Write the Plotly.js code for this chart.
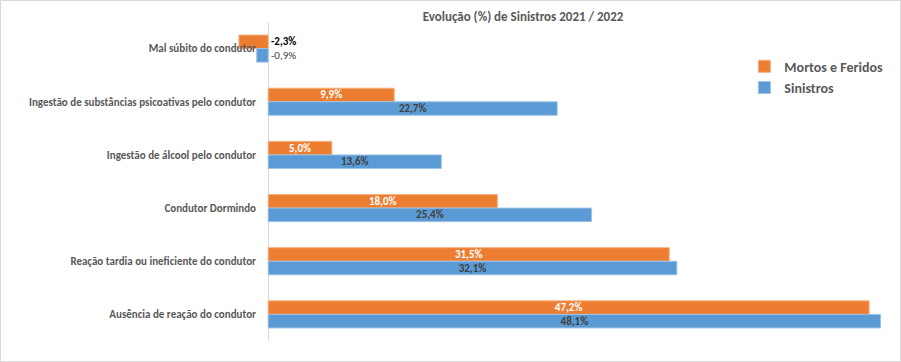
<!DOCTYPE html>
<html>
<head>
<meta charset="utf-8">
<script src="https://cdn.plot.ly/plotly-3.0.1.min.js"></script>
<style>
  html, body { margin: 0; padding: 0; background: #fff; }
  #chart { width: 899px; height: 360px; border: 1px solid #d9d9d9; }
</style>
</head>
<body>
<div id="chart"></div>
<script>
const categories = [
  "Mal súbito do condutor",
  "Ingestão de substâncias psicoativas pelo condutor",
  "Ingestão de álcool pelo condutor",
  "Condutor Dormindo",
  "Reação tardia ou ineficiente do condutor",
  "Ausência de reação do condutor"
];
const mortosFeridos = [-2.3, 9.9, 5.0, 18.0, 31.5, 47.2];
const sinistros = [-0.9, 22.7, 13.6, 25.4, 32.1, 48.1];
const seriesNames = ["Mortos e Feridos", "Sinistros"];
const titleText = "Evolução (%) de Sinistros 2021 / 2022";

const FONT = "Carlito, Calibri, Lato, 'Open Sans', sans-serif";
const fmt = v => v.toFixed(1).replace('.', ',') + '%';

function mkTrace(name, vals, color, lineColor, textColor) {
  return {
    type: 'bar', orientation: 'h', name: name,
    y: categories, x: vals,
    marker: { color: color, line: { color: lineColor, width: 1 } },
    text: vals.map(v => v > 0 ? fmt(v) : ''),
    textposition: 'inside', insidetextanchor: 'middle', textangle: 0,
    constraintext: 'none',
    textfont: { family: FONT, size: 11, color: textColor, weight: 'bold' },
    hoverinfo: 'x+y'
  };
}

const traces = [
  mkTrace(seriesNames[0], mortosFeridos, '#ED7D31', '#F4B183', '#FFFFFF'),
  mkTrace(seriesNames[1], sinistros, '#5B9BD5', '#9DC3E6', '#404040')
];

const annotations = [];
mortosFeridos.forEach((v, i) => {
  if (v <= 0) annotations.push({
    x: 0, y: categories[i], xref: 'x', yref: 'y', xanchor: 'left', yanchor: 'middle',
    yshift: 7, xshift: 1, showarrow: false, text: fmt(v),
    font: { family: FONT, size: 11, color: '#000000', weight: 'bold' }
  });
});
sinistros.forEach((v, i) => {
  if (v <= 0) annotations.push({
    x: 0, y: categories[i], xref: 'x', yref: 'y', xanchor: 'left', yanchor: 'middle',
    yshift: -7, xshift: 1, showarrow: false, text: fmt(v),
    font: { family: FONT, size: 11, color: '#404040' }
  });
});

const layout = {
  width: 899, height: 360,
  margin: { l: 229, r: 8, t: 21, b: 20, pad: 0 },
  paper_bgcolor: '#ffffff', plot_bgcolor: '#ffffff',
  font: { family: FONT, color: '#595959' },
  title: {
    text: titleText, x: 0.5807, xref: 'container', xanchor: 'center',
    y: 0.956, yref: 'container', yanchor: 'middle',
    font: { family: FONT, size: 13, color: '#595959', weight: 'bold' }
  },
  barmode: 'group', bargap: 0.49, bargroupgap: 0,
  xaxis: {
    range: [-3, 49], showticklabels: false, showgrid: false,
    zeroline: true, zerolinecolor: '#d9d9d9', zerolinewidth: 1,
    showline: false, ticks: '', fixedrange: true
  },
  yaxis: {
    autorange: 'reversed', type: 'category', showgrid: false, zeroline: false,
    showline: false, ticks: '', ticklabelstandoff: -27,
    tickfont: { family: FONT, size: 11, color: '#595959', weight: 'bold' }
  },
  showlegend: true,
  legend: {
    x: 0.777, xref: 'paper', xanchor: 'left', y: 0.91, yanchor: 'top',
    bgcolor: 'rgba(0,0,0,0)', traceorder: 'normal',
    font: { family: FONT, size: 14, color: '#595959', weight: 'bold' },
    itemwidth: 30
  },
  annotations: annotations
};

Plotly.newPlot('chart', traces, layout, { displayModeBar: false, staticPlot: true });
</script>
</body>
</html>
